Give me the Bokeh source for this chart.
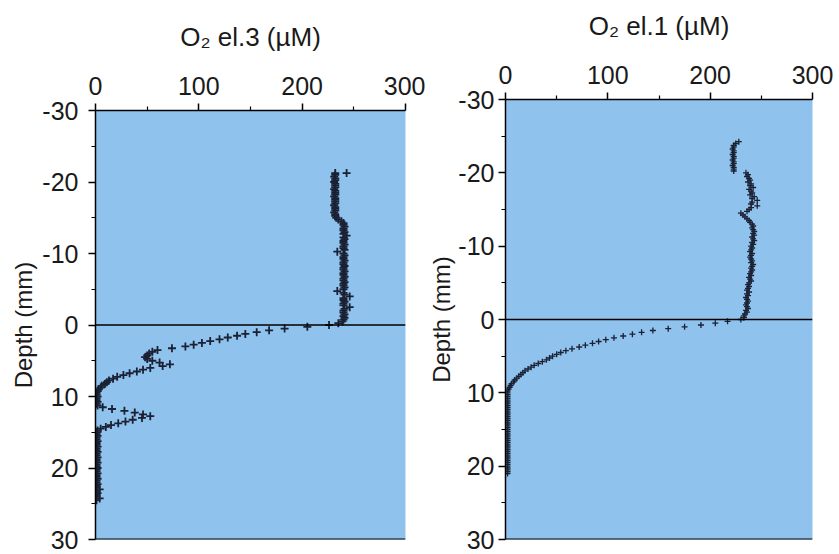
from bokeh.plotting import figure
from bokeh.models import Range1d, Span, FixedTicker
from bokeh.embed import file_html
from bokeh.resources import INLINE

# ---------------- data ----------------
x_ticks = [0, 100, 200, 300]
x_minor = [50, 150, 250]
y_ticks = [-30, -20, -10, 0, 10, 20, 30]
y_minor = [-25, -15, -5, 5, 15, 25]
y_tick_text = {-30: "-30", -20: "-20", -10: "-10"}

title_el3 = "O\u2082 el.3 (\u00b5M)"
title_el1 = "O\u2082 el.1 (\u00b5M)"
depth_label = "Depth (mm)"

# electrode 3 (left panel): depth (mm) and O2 (uM)
depth_el3 = [
    -21.25,
    -21.25, -21.0, -20.75, -20.5, -20.25, -20.0, -19.75, -19.5,
    -19.25, -19.0, -18.75, -18.5, -18.25, -18.0, -17.75, -17.5,
    -17.25, -17.0, -16.75, -16.5, -16.25, -16.0, -15.75, -15.5,
    -15.25, -15.0, -14.75, -14.5, -14.25, -14.0, -13.75, -13.5,
    -13.25, -13.0, -12.75, -12.5, -12.25, -12.0, -11.75, -11.5,
    -11.25, -11.0, -10.75, -10.5, -10.25, -10.0, -9.75, -9.5,
    -9.25, -9.0, -8.75, -8.5, -8.25, -8.0, -7.75, -7.5,
    -7.25, -7.0, -6.75, -6.5, -6.25, -6.0, -5.75, -5.5,
    -5.25, -5.0, -4.75, -4.5, -4.25, -4.0, -3.75, -3.5,
    -3.25, -3.0, -2.75, -2.5, -2.25, -2.0, -1.75, -1.5,
    -1.25, -1.0, -0.75, -0.5, -0.25, 0.0, 0.25, 0.5,
    0.75, 1.0, 1.25, 1.5, 1.75, 2.0, 2.25, 2.5,
    2.75, 3.0, 3.25, 3.5, 3.75, 4.0, 4.25, 4.5,
    4.75, 5.0, 5.25, 5.5, 5.75, 6.0, 6.25, 6.5,
    6.75, 7.0, 7.25, 7.5, 7.75, 8.0, 8.25, 8.5,
    8.75, 9.0, 9.25, 9.5, 9.75, 10.0, 10.25, 10.5,
    10.75, 11.0, 11.25, 11.5, 11.75, 12.0, 12.25, 12.5,
    12.75, 13.0, 13.25, 13.5, 13.75, 14.0, 14.25, 14.5,
    14.75, 15.0, 15.25, 15.5, 15.75, 16.0, 16.25, 16.5,
    16.75, 17.0, 17.25, 17.5, 17.75, 18.0, 18.25, 18.5,
    18.75, 19.0, 19.25, 19.5, 19.75, 20.0, 20.25, 20.5,
    20.75, 21.0, 21.25, 21.5, 21.75, 22.0, 22.25, 22.5,
    22.75, 23.0, 23.25, 23.5, 23.75, 24.0, 24.25, 24.5,
]
o2_el3 = [
    243,
    232, 232, 231, 232, 232, 231, 232, 232,
    232, 231, 232, 232, 232, 231, 232, 232,
    232, 232, 231, 232, 232, 232, 231, 232,
    232, 233, 235, 238, 240, 240, 241, 240,
    240, 241, 240, 243, 240, 241, 240, 240,
    241, 240, 240, 241, 234, 240, 241, 240,
    240, 241, 240, 240, 241, 240, 240, 241,
    240, 240, 241, 240, 240, 241, 240, 240,
    241, 240, 234, 240, 241, 246, 240, 240,
    241, 240, 240, 246, 241, 240, 240, 241,
    240, 241, 240, 239, 235, 226, 205, 183,
    168, 156, 145, 137, 128, 120, 111, 103,
    95, 87, 74, 60, 55, 52, 50, 48,
    50, 55, 62, 72, 65, 53, 46, 40,
    33, 27, 21, 17, 13, 11, 9, 6,
    5, 3, 2, 1, 1, 2, 1, 1,
    2, 1, 2, 7, 16, 28, 38, 46,
    53, 45, 36, 29, 22, 15, 10, 5,
    2, 1, 1, 2, 1, 1, 2, 1,
    1, 2, 1, 1, 2, 1, 1, 2,
    1, 1, 2, 1, 1, 2, 1, 1,
    2, 1, 1, 2, 1, 1, 2, 1,
    1, 4, 1, 2, 1, 1, 4, 1,
]

# electrode 1 (right panel)
depth_el1 = [
    -24.25, -24.0, -23.75, -23.5, -23.25, -23.0, -22.75, -22.5,
    -22.25, -22.0, -21.75, -21.5, -21.25, -21.0, -20.75, -20.5,
    -20.25, -20.0, -19.75, -19.5, -19.25, -19.0, -18.75, -18.5,
    -18.25, -18.0, -17.75, -17.5, -17.25, -17.0, -16.75, -16.5,
    -16.25, -16.0, -15.75, -15.5, -15.25, -15.0, -14.75, -14.5,
    -14.25, -14.0, -13.75, -13.5, -13.25, -13.0, -12.75, -12.5,
    -12.25, -12.0, -11.75, -11.5, -11.25, -11.0, -10.75, -10.5,
    -10.25, -10.0, -9.75, -9.5, -9.25, -9.0, -8.75, -8.5,
    -8.25, -8.0, -7.75, -7.5, -7.25, -7.0, -6.75, -6.5,
    -6.25, -6.0, -5.75, -5.5, -5.25, -5.0, -4.75, -4.5,
    -4.25, -4.0, -3.75, -3.5, -3.25, -3.0, -2.75, -2.5,
    -2.25, -2.0, -1.75, -1.5, -1.25, -1.0, -0.75, -0.5,
    -0.25, 0.0, 0.25, 0.5, 0.75, 1.0, 1.25, 1.5,
    1.75, 2.0, 2.25, 2.5, 2.75, 3.0, 3.25, 3.5,
    3.75, 4.0, 4.25, 4.5, 4.75, 5.0, 5.25, 5.5,
    5.75, 6.0, 6.25, 6.5, 6.75, 7.0, 7.25, 7.5,
    7.75, 8.0, 8.25, 8.5, 8.75, 9.0, 9.25, 9.5,
    9.75, 10.0, 10.25, 10.5, 10.75, 11.0, 11.25, 11.5,
    11.75, 12.0, 12.25, 12.5, 12.75, 13.0, 13.25, 13.5,
    13.75, 14.0, 14.25, 14.5, 14.75, 15.0, 15.25, 15.5,
    15.75, 16.0, 16.25, 16.5, 16.75, 17.0, 17.25, 17.5,
    17.75, 18.0, 18.25, 18.5, 18.75, 19.0, 19.25, 19.5,
    19.75, 20.0, 20.25, 20.5, 20.75, 21.0,
]
o2_el1 = [
    228, 225, 223, 223, 222, 223, 223, 222,
    223, 223, 222, 223, 223, 222, 223, 223,
    223, 235, 237, 236, 238, 239, 237, 240,
    239, 242, 238, 240, 241, 239, 243, 241,
    246, 241, 240, 246, 240, 238, 236, 230,
    232, 234, 236, 238, 239, 241, 242, 241,
    242, 243, 242, 243, 241, 242, 243, 241,
    242, 240, 241, 240, 239, 241, 240, 239,
    240, 241, 240, 242, 241, 240, 241, 240,
    239, 240, 238, 239, 240, 238, 237, 238,
    237, 236, 238, 236, 237, 235, 236, 237,
    236, 235, 236, 237, 235, 236, 234, 233,
    233, 230, 217, 205, 191, 175, 159, 144,
    133, 124, 115, 106, 98, 91, 85, 78,
    72, 65, 59, 54, 50, 46, 43, 40,
    36, 32, 28, 25, 22, 19, 17, 15,
    13, 11, 9, 8, 6, 5, 4, 3,
    2, 2, 2, 2, 2, 2, 2, 2,
    2, 2, 2, 2, 2, 2, 2, 2,
    2, 2, 2, 2, 2, 2, 2, 2,
    2, 2, 2, 2, 2, 2, 2, 2,
    2, 2, 2, 2, 2, 2, 2, 2,
    2, 2, 2, 2, 2, 2,
]

FONT = "Liberation Sans"
TEXT = "#1a1a1a"
BG = "#8FC3EE"
MARK = "#1b2133"


def panel(title, depth, o2, width, bl, br, bt, bb, ystand, ylstand, msize, mlw):
    p = figure(width=width, height=554,
               x_range=Range1d(0, 300), y_range=Range1d(30, -30),
               x_axis_location="above",
               output_backend="svg", toolbar_location=None,
               min_border_left=bl, min_border_right=br,
               min_border_top=bt, min_border_bottom=bb)
    p.background_fill_color = BG
    p.border_fill_color = "white"
    p.outline_line_color = None
    p.grid.visible = False

    p.xaxis.ticker = FixedTicker(ticks=x_ticks, minor_ticks=x_minor)
    p.yaxis.ticker = FixedTicker(ticks=y_ticks, minor_ticks=y_minor)
    p.yaxis.major_label_overrides = y_tick_text
    for ax in (p.xaxis, p.yaxis):
        ax.axis_line_color = "black"
        ax.axis_line_width = 1.5
        ax.major_tick_line_color = "black"
        ax.major_tick_line_width = 1.5
        ax.minor_tick_line_color = "black"
        ax.minor_tick_line_width = 1.2
        ax.major_tick_out = 7
        ax.major_tick_in = 0
        ax.minor_tick_out = 4
        ax.minor_tick_in = 0
        ax.major_label_text_font = FONT
        ax.major_label_text_font_size = "25px"
        ax.major_label_text_color = TEXT
        ax.axis_label_text_font = FONT
        ax.axis_label_text_font_style = "normal"
        ax.axis_label_text_color = TEXT

    p.xaxis.major_label_standoff = 9
    p.xaxis.axis_label = title
    p.xaxis.axis_label_text_font_size = "26px"
    p.xaxis.axis_label_standoff = 22

    p.yaxis.major_label_standoff = ystand
    p.yaxis.axis_label = depth_label
    p.yaxis.axis_label_text_font_size = "24px"
    p.yaxis.axis_label_standoff = ylstand

    p.add_layout(Span(location=0, dimension="width", line_color="black", line_width=1.5))
    p.add_layout(Span(location=y_ticks[-1], dimension="width",
                      line_color="black", line_width=2))

    p.scatter(x=o2, y=depth, marker="cross", size=msize,
              line_color=MARK, line_width=mlw)
    return p


p1 = panel(title_el3, depth_el3, o2_el3, 425, 95, 20, 110, 15, 10, 2, 8, 1.8)
p2 = panel(title_el1, depth_el1, o2_el1, 414, 79, 27, 99, 15, 4, 0, 6, 1.3)
p2.styles = {"position": "absolute", "left": "425px", "top": "0px"}

open("out.html", "w").write(file_html([p1, p2], INLINE))
